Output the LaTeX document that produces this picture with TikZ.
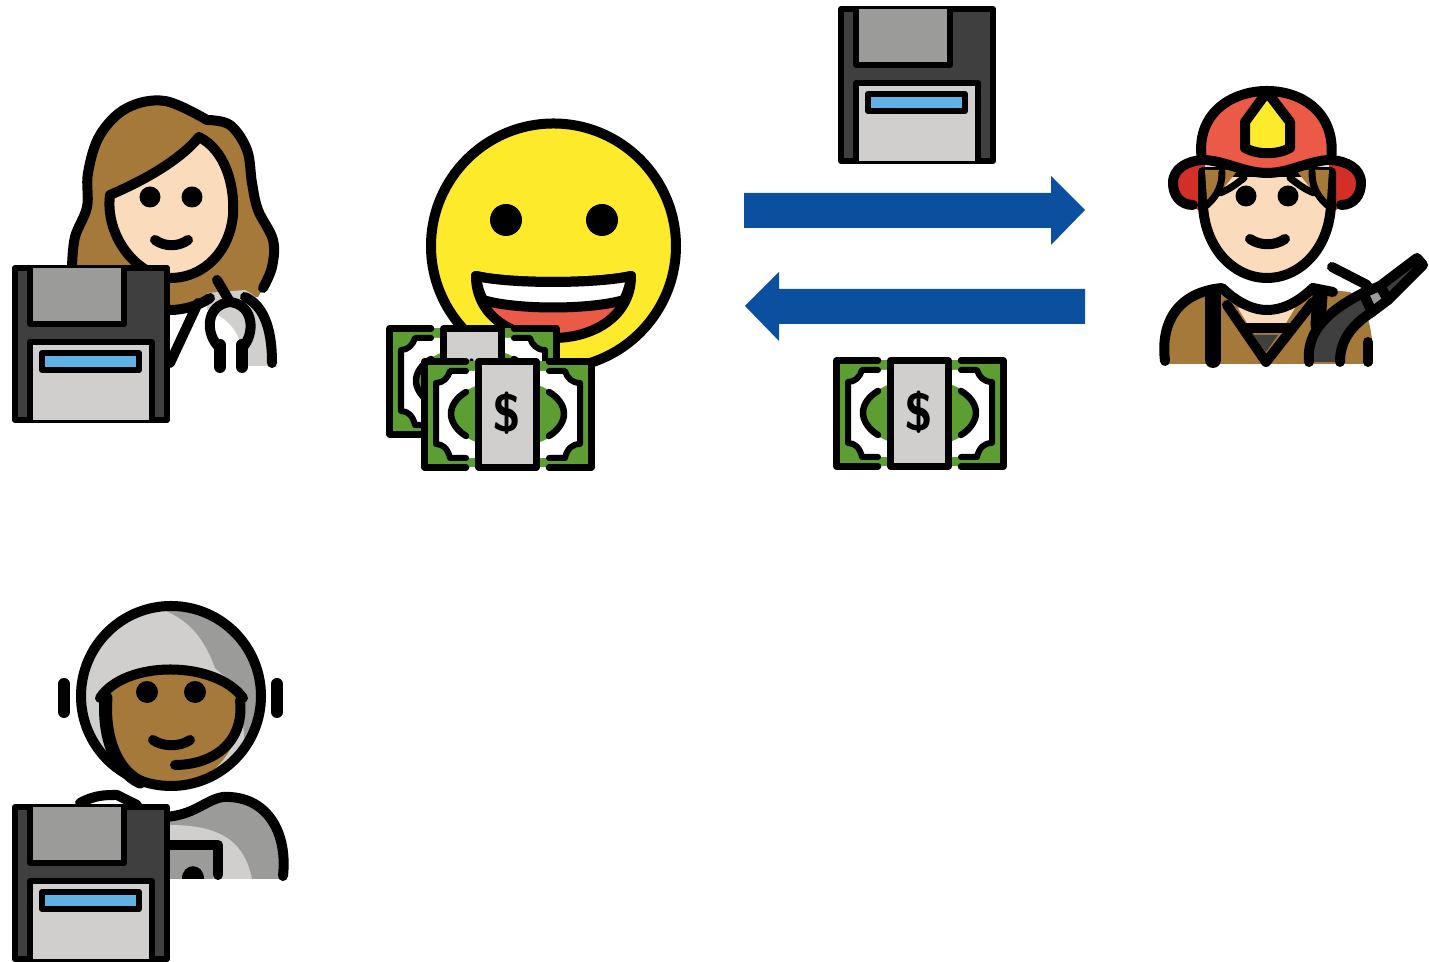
\documentclass[tikz,border=0pt]{standalone}
\usepackage{xcolor}
\usetikzlibrary{arrows.meta,calc}
\definecolor{skinlight}{HTML}{FADCBC}
\definecolor{hairbrown}{HTML}{A57939}
\definecolor{smileyellow}{HTML}{FCEA2B}
\definecolor{mouthred}{HTML}{EA5A47}
\definecolor{darkred}{HTML}{D22F27}
\definecolor{moneygreen}{HTML}{5C9E31}
\definecolor{lightgray}{HTML}{D0CFCE}
\definecolor{midgray}{HTML}{9B9B9A}
\definecolor{darkgray}{HTML}{3F3F3F}
\definecolor{labelblue}{HTML}{61B2E4}
\definecolor{arrowblue}{HTML}{0A509E}
\tikzset{
  outline/.style={draw=black, line width=0.1cm, line cap=round, line join=round},
  thinline/.style={draw=black, line width=0.06cm, line cap=round, line join=round},
  noteline/.style={draw=black, line width=0.065cm, line cap=round, line join=round},
  floppy/.pic={
    \draw[thinline, fill=darkgray] (3,3) rectangle (155,155);
    \draw[thinline, fill=midgray] (18,3) -- (18,59) -- (112,59) -- (112,3);
    \draw[thinline, fill=lightgray] (18,155) -- (18,77) -- (140,77) -- (140,155);
    \draw[thinline, fill=labelblue] (30,88) rectangle (127,105);
  },
  banknote/.pic={
    \fill[moneygreen] (3.5,3.5) rectangle (170.5,109.5);
    \fill[white] (45,13) -- (29,13) .. controls (27,20) and (22,25) .. (15,25) -- (15,86) .. controls (22,86) and (27,91) .. (29,100) -- (144,100) .. controls (146,91) and (151,86) .. (159,86) -- (159,25) .. controls (151,25) and (146,20) .. (144,13) -- cycle;
    \fill[moneygreen] (87,56) ellipse (57 and 34);
    \draw[noteline] (45,3.5) -- (3.5,3.5) -- (3.5,109.5) -- (45,109.5);
    \draw[noteline] (128,3.5) -- (170.5,3.5) -- (170.5,109.5) -- (128,109.5);
    \draw[thinline] (45,13) -- (29,13) .. controls (27,20) and (22,25) .. (15,25) -- (15,86) .. controls (22,86) and (27,91) .. (29,100) -- (45,100);
    \draw[thinline] (128,13) -- (144,13) .. controls (146,20) and (151,25) .. (159,25) -- (159,86) .. controls (151,86) and (146,91) .. (144,100) -- (128,100);
    \draw[noteline] (45,34) .. controls (35,40) and (30,48) .. (30,56) .. controls (30,63) and (35,72) .. (45,78);
    \draw[noteline] (128,34) .. controls (138,40) and (143,48) .. (143,56) .. controls (143,63) and (138,72) .. (128,78);
    \draw[noteline, fill=lightgray] (57.5,3.5) rectangle (115.5,109.5);
    \node[font=\fontsize{15}{15}\sffamily\bfseries] (-dollar) at (86.5,55) {\$};
  }
}
\begin{document}
\begin{tikzpicture}[x=0.01cm,y=-0.01cm]
\useasboundingbox (0,0) rectangle (1429,962);
% doctor
\fill[hairbrown] plot[smooth, tension=0.6] coordinates {(72,267) (75,237) (87,207) (88,173) (100,135) (127,108) (165,101) (207,120) (230,125) (247,150) (252,183) (258,210) (273,240) (272,267) (263,288)} -- (258,297) -- (210,298) -- (170,310) -- (72,300) -- cycle;
\draw[outline] plot[smooth, tension=0.6] coordinates {(72,267) (75,237) (87,207) (88,173) (100,135) (127,108) (165,101) (207,120)};
\draw[outline] plot[smooth, tension=0.6] coordinates {(207,120) (230,125) (247,150) (252,183) (258,210) (273,240) (272,267) (263,288)};
\fill[lightgray] (207,293) -- (245,290) .. controls (265,300) and (272,320) .. (272,340) -- (272,366) -- (243,366) .. controls (243,340) and (235,320) .. (207,310) -- cycle;
\draw[outline, fill=skinlight] (110,195) .. controls (145,180) and (180,160) .. (199,137) .. controls (225,150) and (235,185) .. (233,215) .. controls (230,250) and (205,278) .. (170,278) .. controls (135,275) and (105,235) .. (110,195) -- cycle;
\foreach \eyex in {150,192} \fill (\eyex,197) circle (10.5);
\draw[outline] (155,240) .. controls (165,247) and (178,247) .. (188,240);
\draw[outline] (210,298) .. controls (200,305) and (185,310) .. (170,310);
\draw[outline] (198,303) -- (170,363);
\draw[outline] (245,297) .. controls (262,305) and (272,325) .. (272,363);
\draw[outline] (217,280) -- (230,302);
\draw[outline] (220,348) .. controls (205,335) and (205,305) .. (230,302) .. controls (255,305) and (255,335) .. (242,348);
\draw[outline, line width=0.12cm] (220,345) -- (220,367);
\draw[outline, line width=0.12cm] (242,345) -- (242,367);
\pic at (12,265) {floppy};
% smiley with two notes
\draw[line width=0.1cm, draw=black, fill=smileyellow] (553.5,246) circle (122.5);
\foreach \eyex in {506,602} \fill (\eyex,220) circle (16);
\draw[outline, fill=mouthred] (476,276) .. controls (510,284) and (596,284) .. (631,276) .. controls (631,315) and (595,338) .. (553,338) .. controls (511,338) and (476,315) .. (476,276) -- cycle;
\draw[outline, fill=white] (476,276) .. controls (510,284) and (596,284) .. (631,276) .. controls (630,285) and (628,292) .. (624,300) .. controls (590,310) and (516,310) .. (483,300) .. controls (479,292) and (477,285) .. (476,276) -- cycle;
\pic at (386,325) {banknote};
\pic at (421,358) {banknote};
% arrows
\fill[arrowblue] (744,193) -- (1051,193) -- (1051,176) -- (1085,210) -- (1051,245) -- (1051,228) -- (744,228) -- cycle;
\fill[arrowblue] (1085,289) -- (779,289) -- (779,272) -- (745,306) -- (779,341) -- (779,324) -- (1085,324) -- cycle;
\pic at (838,6) {floppy};
\pic at (833,357) {banknote};
% firefighter
\fill[hairbrown] (1165,364) -- (1167,322) .. controls (1172,305) and (1185,295) .. (1222,288) -- (1267,310) -- (1313,288) -- (1350,292) .. controls (1365,305) and (1373,320) .. (1373,364) -- cycle;
\fill[skinlight] (1238,308) -- (1295,308) -- (1283,328) -- (1250,328) -- cycle;
\draw[outline] (1165,361) .. controls (1160,320) and (1180,292) .. (1222,288) .. controls (1240,305) and (1255,310) .. (1267,310) .. controls (1280,310) and (1295,305) .. (1313,288) -- (1333,292);
\draw[outline, line width=0.16cm] (1213,293) -- (1213,360);
\draw[outline, line width=0.15cm] (1320,295) -- (1318,325);
\draw[outline] (1227,305) -- (1266,362) -- (1313,302);
\draw[outline] (1243,328) -- (1290,328);
\fill[darkgray] (1253,335) -- (1278,335) -- (1266,352) -- cycle;
\draw[outline] (1368,342) -- (1368,362);
\draw[outline] (1332,267) -- (1367,285);
\draw[outline, fill=darkgray] (1380,286) -- (1417,258) -- (1423,265) -- (1388,300) -- cycle;
\draw[outline, fill=midgray] (1363,293) -- (1380,286) -- (1388,300) -- (1372,312) -- cycle;
\draw[outline, fill=darkgray] (1309,362) .. controls (1306,330) and (1330,310) .. (1363,293) -- (1372,312) .. controls (1352,325) and (1340,340) .. (1340,362);
\fill[darkred] (1175,183) .. controls (1175,170) and (1190,162) .. (1205,162) -- (1205,214) -- (1193,207) .. controls (1180,205) and (1175,195) .. (1175,183) -- cycle;
\fill[darkred] (1359,183) .. controls (1359,170) and (1344,162) .. (1329,162) -- (1329,214) -- (1341,207) .. controls (1354,205) and (1359,195) .. (1359,183) -- cycle;
\draw[outline, fill=skinlight] (1203,172) -- (1203,205) .. controls (1205,250) and (1235,278) .. (1267,278) .. controls (1299,278) and (1329,250) .. (1331,205) -- (1331,172) -- cycle;
\fill[hairbrown] (1205,170) -- (1238,170) -- (1222,190) -- (1207,200) -- cycle;
\fill[hairbrown] (1329,170) -- (1296,170) -- (1312,190) -- (1327,200) -- cycle;
\draw[outline, line width=0.07cm] (1222,172) .. controls (1222,185) and (1218,195) .. (1207,205);
\draw[outline, line width=0.07cm] (1244,178) .. controls (1235,185) and (1228,190) .. (1220,193);
\draw[outline, line width=0.07cm] (1312,172) .. controls (1312,185) and (1316,195) .. (1327,205);
\draw[outline, line width=0.07cm] (1290,178) .. controls (1299,185) and (1306,190) .. (1314,193);
\draw[outline, fill=mouthred] (1202,160) .. controls (1195,115) and (1230,91) .. (1267,91) .. controls (1304,91) and (1337,115) .. (1331,160) .. controls (1310,160) and (1290,173) .. (1267,173) .. controls (1244,173) and (1224,160) .. (1202,160) -- cycle;
\draw[outline] (1193,205) .. controls (1180,205) and (1173,195) .. (1173,183) .. controls (1173,168) and (1188,161) .. (1202,160);
\draw[outline] (1341,205) .. controls (1354,205) and (1361,195) .. (1361,183) .. controls (1361,168) and (1346,161) .. (1331,160);
\draw[outline, fill=smileyellow] (1267,92) -- (1245,122) -- (1245,148) .. controls (1258,155) and (1277,155) .. (1290,148) -- (1290,122) -- cycle;
\foreach \eyex in {1246,1288} \fill (\eyex,196) circle (10.5);
\draw[outline] (1250,239) .. controls (1260,246) and (1275,246) .. (1285,239);
% astronaut
\fill[midgray] (170,818) -- (197,812) -- (223,797) .. controls (265,795) and (285,830) .. (283,879) -- (170,879) -- cycle;
\fill[lightgray] (170,825) .. controls (225,825) and (245,845) .. (252,879) -- (170,879) -- cycle;
\draw[outline] (80,803) .. controls (95,795) and (105,795) .. (117,795) -- (137,805);
\draw[outline] (165,817) .. controls (195,815) and (205,800) .. (223,797) .. controls (265,795) and (288,830) .. (283,876);
\fill[midgray] (170,850) -- (213,850) -- (213,879) -- (170,879) -- cycle;
\draw[outline] (170,845) -- (218,845) -- (218,875);
\fill (182,879) .. controls (182,862) and (204,862) .. (204,879) -- cycle;
\draw[outline, line width=0.12cm] (64,684) -- (64,712);
\draw[outline, line width=0.12cm] (277,684) -- (277,712);
\fill[lightgray] (171,696) circle (90);
\fill[midgray] (163,610) .. controls (230,610) and (262,660) .. (262,696) .. controls (262,715) and (255,730) .. (245,745) -- (240,690) -- (215,668) .. controls (205,640) and (190,620) .. (163,610) -- cycle;
\fill[hairbrown] (100,698) .. controls (125,660) and (215,660) .. (243,698) .. controls (243,745) and (215,786) .. (170,786) .. controls (130,786) and (102,745) .. (100,698) -- cycle;
\draw[line width=0.1cm, draw=black] (171,696) circle (90);
\draw[outline] (100,698) .. controls (125,660) and (215,660) .. (243,698);
\draw[outline, line width=0.13cm] (106,698) .. controls (103,735) and (115,770) .. (140,782);
\draw[outline] (175,765) .. controls (210,765) and (245,745) .. (240,700);
\foreach \eyex in {147,195} \fill (\eyex,692) circle (11);
\draw[outline] (153,740) .. controls (163,747) and (180,747) .. (190,740);
\pic at (12,804) {floppy};
\end{tikzpicture}
\end{document}
